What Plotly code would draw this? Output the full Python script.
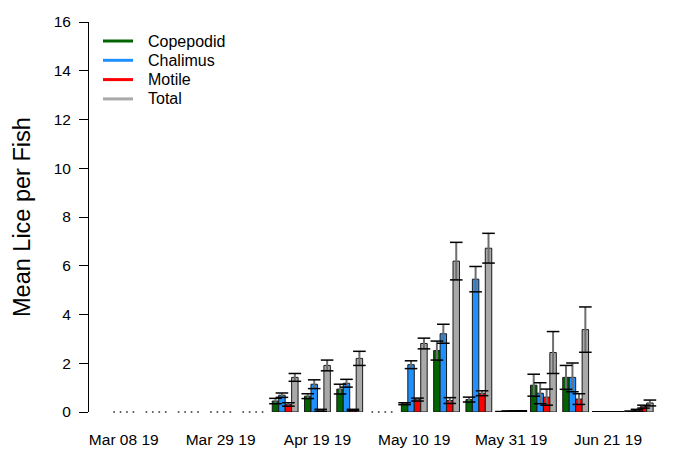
"""Weekly mean sea lice per fish by stage, grouped bars with SE whiskers."""

import plotly.graph_objects as go

C_COP = "#006400"
C_CHAL = "#1E90FF"
C_MOT = "#FF0000"
C_TOT = "#A9A9A9"
FONT = "Liberation Sans, Arial, sans-serif"

weeks = [
    "Mar 08 19", "Mar 15 19", "Mar 22 19", "Mar 29 19", "Apr 05 19",
    "Apr 12 19", "Apr 19 19", "Apr 26 19", "May 03 19", "May 10 19",
    "May 17 19", "May 24 19", "May 31 19", "Jun 07 19", "Jun 14 19",
    "Jun 21 19", "Jun 28 19",
]
# None = week not sampled
copepodid = [None, None, None, None, None, 0.45, 0.65, 0.94, None, 0.34, 2.52, 0.51, 0.01, 1.10, 1.42, 0.01, 0.02]
copepodid_se = [None, None, None, None, None, 0.11, 0.10, 0.20, None, 0.04, 0.39, 0.10, 0.01, 0.45, 0.49, 0.0, 0.02]
chalimus = [None, None, None, None, None, 0.69, 1.14, 1.18, None, 1.94, 3.21, 5.45, 0.03, 0.77, 1.42, 0.01, 0.07]
chalimus_se = [None, None, None, None, None, 0.09, 0.18, 0.16, None, 0.16, 0.39, 0.52, 0.01, 0.43, 0.59, 0.0, 0.04]
motile = [None, None, None, None, None, 0.31, 0.07, 0.08, None, 0.51, 0.47, 0.77, 0.03, 0.61, 0.53, 0.01, 0.22]
motile_se = [None, None, None, None, None, 0.07, 0.04, 0.03, None, 0.06, 0.12, 0.10, 0.01, 0.33, 0.22, 0.0, 0.06]
total = [None, None, None, None, None, 1.42, 1.91, 2.20, None, 2.81, 6.19, 6.72, 0.04, 2.44, 3.38, 0.01, 0.37]
total_se = [None, None, None, None, None, 0.16, 0.22, 0.29, None, 0.22, 0.77, 0.61, 0.01, 0.86, 0.93, 0.0, 0.12]

series = [
    ("Copepodid", copepodid, copepodid_se, C_COP),
    ("Chalimus", chalimus, chalimus_se, C_CHAL),
    ("Motile", motile, motile_se, C_MOT),
    ("Total", total, total_se, C_TOT),
]

BAR_W = 0.2
fig = go.Figure()
shapes, notes = [], []

for j, (name, vals, se, color) in enumerate(series):
    off = (j - 1.5) * BAR_W
    xs = [i + off for i in range(len(weeks))]
    fig.add_trace(go.Bar(
        x=xs, y=vals, width=BAR_W,
        marker=dict(color=color, line=dict(color="#1a1a1a", width=1)),
        error_y=dict(type="data", array=se, color="#6e6e6e", thickness=2, width=0),
        showlegend=False, hoverinfo="skip",
    ))
    # whisker caps
    cx, cy = [], []
    for x, v, s in zip(xs, vals, se):
        if v is None:
            continue
        cx += [x, x]
        cy += [v + s, v - s]
    fig.add_trace(go.Scatter(
        x=cx, y=cy, mode="markers",
        marker=dict(symbol="line-ew", size=9, line=dict(color="black", width=1.5)),
        showlegend=False, hoverinfo="skip",
    ))
    # unsampled weeks marked by a dot on the baseline
    nx_ = [x for x, v in zip(xs, vals) if v is None]
    fig.add_trace(go.Scatter(
        x=nx_, y=[0] * len(nx_), mode="markers",
        marker=dict(size=2, color="#555555"),
        cliponaxis=False, showlegend=False, hoverinfo="skip",
    ))
    # hand-placed legend (R style: short line + label)
    dy = -19 - j * 19.3
    shapes.append(dict(
        type="line", xref="paper", yref="paper",
        xsizemode="pixel", ysizemode="pixel", xanchor=0, yanchor=1,
        x0=14, x1=44, y0=dy, y1=dy,
        line=dict(color=color, width=3),
    ))
    notes.append(dict(
        text=name, xref="paper", yref="paper", x=0, y=1,
        xshift=57, yshift=dy, xanchor="left", yanchor="middle",
        showarrow=False, font=dict(size=16),
    ))

notes.append(dict(
    text="Mean Lice per Fish", textangle=-90,
    xref="paper", yref="paper", x=0, y=0.5,
    xshift=-67, xanchor="center", yanchor="middle",
    showarrow=False, font=dict(size=23.5),
))

fig.update_layout(
    width=673,
    height=445,
    barmode="overlay",
    showlegend=False,
    paper_bgcolor="white",
    plot_bgcolor="white",
    margin=dict(l=81, r=5.6, t=11, b=40),
    font=dict(family=FONT, color="black", size=15),
    xaxis=dict(
        range=[-1.077, 17.077],
        tickvals=list(range(0, len(weeks), 3)),
        ticktext=weeks[::3],
        ticks="",
        ticklabelstandoff=16,
        showline=False, showgrid=False, zeroline=False,
        tickfont=dict(size=15.5),
    ),
    yaxis=dict(
        range=[0, 16],
        tickvals=list(range(0, 17, 2)),
        ticks="outside", ticklen=9, tickcolor="black",
        ticklabelstandoff=5,
        showline=True, linecolor="black", linewidth=1,
        showgrid=False, zeroline=False,
        tickfont=dict(size=15.5),
    ),
    shapes=shapes,
    annotations=notes,
)

fig.write_html("out.html")
